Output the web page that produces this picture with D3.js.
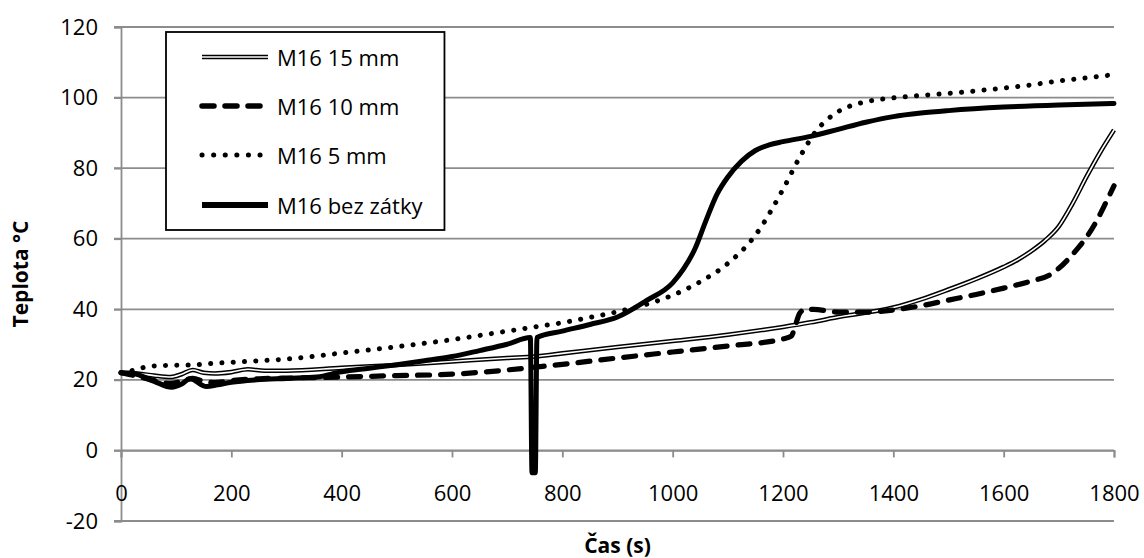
<!DOCTYPE html>
<html>
<head>
<meta charset="utf-8">
<script src="https://cdn.jsdelivr.net/npm/d3@7/dist/d3.min.js"></script>
<style>
  html, body { margin: 0; padding: 0; background: #fff; }
  svg { display: block; }
  text { font-family: "Open Sans", "Noto Sans", sans-serif; fill: #000; }
</style>
</head>
<body>
<svg id="chart" width="1144" height="558"></svg>
<script>
// Temperature over time for an M16 sample with different plug depths
const seriesNames = ["M16 15 mm", "M16 10 mm", "M16 5 mm", "M16 bez zátky"];

const time15 = [0, 30, 60, 90, 110, 130, 150, 170, 200, 230, 260, 300, 400, 500, 600, 700, 750, 800, 900, 1000, 1100, 1200, 1250, 1300, 1400, 1450, 1500, 1550, 1600, 1625, 1650, 1675, 1700, 1725, 1750, 1775, 1800];
const temp15 = [22, 21.8, 21.2, 20.8, 21.6, 22.8, 22.0, 21.8, 22.2, 23.0, 22.6, 22.6, 23.4, 24.2, 25.2, 26.2, 26.6, 27.5, 29.3, 31.0, 32.8, 35.0, 36.3, 37.8, 40.5, 42.8, 45.6, 48.6, 52.0, 54.0, 56.5, 59.5, 63.5, 70.0, 77.5, 84.5, 90.8];

const time10 = [0, 30, 60, 90, 110, 130, 150, 170, 200, 250, 300, 400, 500, 600, 700, 750, 800, 900, 1000, 1100, 1200, 1215, 1222, 1230, 1240, 1255, 1300, 1350, 1400, 1450, 1500, 1550, 1600, 1650, 1684, 1700, 1720, 1735, 1751, 1770, 1787, 1800];
const temp10 = [22, 21.0, 19.8, 19.0, 19.6, 20.4, 19.6, 19.2, 19.8, 20.3, 20.5, 20.8, 21.2, 21.6, 22.8, 23.6, 24.4, 26.2, 27.9, 29.6, 31.6, 32.4, 35.2, 38.8, 40.0, 40.0, 39.2, 39.2, 39.8, 41.0, 42.6, 44.2, 46.0, 48.0, 49.8, 51.6, 54.7, 57.4, 60.6, 65.5, 70.8, 75.0];

const time5 = [0, 25, 50, 80, 125, 170, 225, 300, 400, 500, 600, 700, 750, 800, 850, 900, 950, 1000, 1050, 1100, 1150, 1200, 1230, 1260, 1290, 1320, 1350, 1400, 1450, 1500, 1550, 1600, 1650, 1700, 1750, 1800];
const temp5 = [22, 22.8, 23.8, 24.1, 24.2, 24.7, 25.2, 25.9, 27.6, 29.4, 31.4, 33.8, 35.0, 36.2, 37.7, 39.3, 41.3, 44.0, 47.8, 53.0, 61.0, 74.0, 83.0, 90.5, 95.0, 97.5, 98.8, 99.9, 100.6, 101.2, 101.9, 102.7, 103.6, 104.7, 105.6, 106.5];

const time0 = [0, 22, 60, 92, 110, 125, 155, 175, 200, 246, 300, 355, 400, 450, 500, 550, 600, 650, 700, 742, 745, 751, 754, 800, 850, 900, 953, 1000, 1020, 1040, 1060, 1080, 1100, 1125, 1150, 1175, 1200, 1250, 1300, 1350, 1400, 1450, 1500, 1600, 1700, 1800];
const temp0 = [22, 21.8, 19.6, 17.9, 18.8, 20.3, 18.1, 18.6, 19.3, 20.0, 20.4, 20.8, 22.3, 23.3, 24.3, 25.4, 26.6, 28.3, 30.1, 32.0, -6.3, -6.3, 32.0, 33.8, 35.7, 37.8, 42.5, 47.5, 51.5, 57.0, 65.0, 72.5, 77.5, 82.0, 85.0, 86.6, 87.5, 89.0, 91.0, 93.0, 94.6, 95.6, 96.3, 97.3, 97.9, 98.3];

const xTicks = [0, 200, 400, 600, 800, 1000, 1200, 1400, 1600, 1800];
const yTicks = [-20, 0, 20, 40, 60, 80, 100, 120];
const xTitle = "Čas (s)";
const yTitle = "Teplota °C";

const svg = d3.select("#chart");
const W = 1144, H = 558;
const margin = { left: 121, right: 30, top: 27, bottom: 37 };

const x = d3.scaleLinear().domain([0, 1800]).range([margin.left, W - margin.right]);
const y = d3.scaleLinear().domain([-20, 120]).range([H - margin.bottom, margin.top]);

const gridColor = "#8c8c8c";

// horizontal gridlines
svg.append("g")
  .selectAll("line")
  .data(yTicks)
  .join("line")
  .attr("x1", x(0) - 7)
  .attr("x2", x(1800))
  .attr("y1", d => y(d))
  .attr("y2", d => y(d))
  .attr("stroke", gridColor)
  .attr("stroke-width", 1.8);

// vertical axis with labels
const yAxis = d3.axisLeft(y).tickValues(yTicks).tickSize(7).tickPadding(16).tickFormat(d => String(d));
const gy = svg.append("g").attr("transform", `translate(${x(0)},0)`).call(yAxis);
gy.select(".domain").attr("stroke", gridColor).attr("stroke-width", 1.8);
gy.selectAll(".tick line").attr("stroke", gridColor).attr("stroke-width", 1.8);
gy.selectAll(".tick text").style("font-size", "22px").attr("fill", "#000");

// horizontal axis crossing at 0 °C
const xAxis = d3.axisBottom(x).tickValues(xTicks).tickSize(7).tickPadding(28).tickFormat(d => String(d));
const gx = svg.append("g").attr("transform", `translate(0,${y(0)})`).call(xAxis);
gx.select(".domain").attr("stroke", gridColor).attr("stroke-width", 1.8);
gx.selectAll(".tick line").attr("stroke", gridColor).attr("stroke-width", 1.8);
gx.selectAll(".tick text").style("font-size", "22px").attr("fill", "#000");

// axis titles
svg.append("text")
  .attr("x", (x(0) + x(1800)) / 2)
  .attr("y", 545)
  .attr("text-anchor", "middle")
  .attr("dominant-baseline", "central")
  .style("font-size", "21px")
  .style("font-weight", "bold")
  .text(xTitle);

svg.append("text")
  .attr("transform", `translate(20,${(y(-20) + y(120)) / 2}) rotate(-90)`)
  .attr("text-anchor", "middle")
  .attr("dominant-baseline", "central")
  .style("font-size", "21px")
  .style("font-weight", "bold")
  .text(yTitle);

// series
const line = d3.line().x(d => x(d[0])).y(d => y(d[1])).curve(d3.curveMonotoneX);
const zip = (t, v) => t.map((d, i) => [d, v[i]]);

const plot = svg.append("g");

// 15 mm: double line (black outline, white core)
const s15 = zip(time15, temp15);
plot.append("path").attr("d", line(s15)).attr("fill", "none")
  .attr("stroke", "#000").attr("stroke-width", 4.6).attr("stroke-linejoin", "round");
plot.append("path").attr("d", line(s15)).attr("fill", "none")
  .attr("stroke", "#fff").attr("stroke-width", 1.6).attr("stroke-linejoin", "round");

// 10 mm: dashed
plot.append("path").attr("d", line(zip(time10, temp10))).attr("fill", "none")
  .attr("stroke", "#000").attr("stroke-width", 5.2).attr("stroke-linecap", "round")
  .attr("stroke-dasharray", "12 11");

// 5 mm: dotted
plot.append("path").attr("d", line(zip(time5, temp5))).attr("fill", "none")
  .attr("stroke", "#000").attr("stroke-width", 5).attr("stroke-linecap", "round")
  .attr("stroke-dasharray", "0.1 11.2");

// no plug: solid
plot.append("path").attr("d", line(zip(time0, temp0))).attr("fill", "none")
  .attr("stroke", "#000").attr("stroke-width", 5).attr("stroke-linejoin", "round")
  .attr("stroke-linecap", "round");

// legend
const legend = svg.append("g");
const legY = [57, 106, 155, 205];
const box = legend.append("rect")
  .attr("x", 166).attr("y", 32).attr("height", 198)
  .attr("fill", "#fff").attr("stroke", "#000").attr("stroke-width", 1.8);

const styles = [
  g => { g.append("line").attr("stroke", "#000").attr("stroke-width", 4.6);
         g.append("line").attr("stroke", "#fff").attr("stroke-width", 1.6); },
  g => g.append("line").attr("stroke", "#000").attr("stroke-width", 5.5).attr("stroke-linecap", "round").attr("stroke-dasharray", "12 11"),
  g => g.append("line").attr("stroke", "#000").attr("stroke-width", 5).attr("stroke-linecap", "round").attr("stroke-dasharray", "0.1 11.5"),
  g => g.append("line").attr("stroke", "#000").attr("stroke-width", 6)
];

let maxRight = 0;
seriesNames.forEach((name, i) => {
  const g = legend.append("g");
  styles[i](g);
  g.selectAll("line").attr("x1", 202).attr("x2", 268).attr("y1", legY[i]).attr("y2", legY[i]);
  const t = g.append("text").attr("x", 277).attr("y", legY[i])
    .attr("dominant-baseline", "central").style("font-size", "22px").text(name);
  maxRight = Math.max(maxRight, 277 + t.node().getComputedTextLength());
});
box.attr("width", maxRight + 22 - 166);
</script>
</body>
</html>
